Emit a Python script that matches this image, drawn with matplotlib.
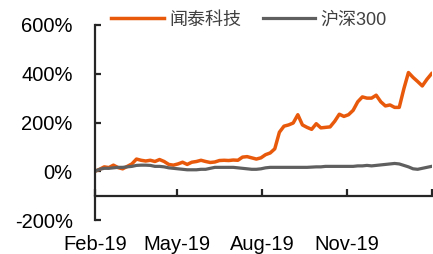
import matplotlib
matplotlib.use("Agg")
import matplotlib.pyplot as plt
import pandas as pd

plt.rcParams['font.family'] = ['Liberation Sans', 'Noto Sans CJK SC', 'DejaVu Sans']

# Sample dates every 5 days, Feb 2019 - Jan 2020
dates = pd.date_range("2019-02-01", periods=74, freq="5D")

wingtech = [0, 8, 18, 15, 25, 15, 10, 20, 30, 50,
            45, 42, 45, 40, 48, 40, 28, 25, 30, 37,
            28, 37, 40, 45, 40, 36, 38, 44, 45, 44,
            46, 45, 58, 60, 55, 50, 55, 68, 75, 92,
            160, 185, 190, 198, 232, 190, 180, 172, 195, 178,
            180, 182, 205, 234, 225, 232, 250, 285, 305, 300,
            300, 312, 285, 268, 272, 262, 262, 338, 405, 385,
            368, 350, 377, 400]

hs300 = [0, 8, 12, 12, 14, 16, 16, 18, 20, 24,
         25, 25, 24, 20, 20, 18, 14, 12, 10, 8,
         6, 6, 6, 8, 8, 12, 16, 16, 16, 16,
         16, 14, 12, 10, 8, 8, 10, 14, 16, 16,
         16, 16, 16, 16, 16, 16, 16, 17, 18, 18,
         20, 20, 20, 20, 20, 20, 20, 22, 22, 24,
         22, 24, 26, 28, 30, 32, 30, 24, 18, 10,
         8, 12, 16, 20]

series_names = ["闻泰科技", "沪深300"]
yticks = [-200, 0, 200, 400, 600]
ytick_labels = ["-200%", "0%", "200%", "400%", "600%"]
xtick_dates = ["2019-02-01", "2019-05-01", "2019-08-01", "2019-11-01", "2020-02-01"]
xtick_labels = ["Feb-19", "May-19", "Aug-19", "Nov-19", ""]

fig = plt.figure(figsize=(4.33, 2.54), dpi=100)
ax = fig.add_axes([95/433, 1 - 220/254, (431.5 - 95)/433, (220 - 25)/254])

ax.plot(dates, wingtech, color="#E8590C", lw=2.5, label=series_names[0], solid_joinstyle="round")
ax.plot(dates, hs300, color="#5F5F5F", lw=2.3, label=series_names[1], solid_joinstyle="round")

ax.set_ylim(-200, 600)
ax.set_xlim(pd.Timestamp("2019-02-01"), pd.Timestamp("2020-02-01"))

ax.set_yticks(yticks)
ax.set_yticklabels(ytick_labels)
ax.set_xticks([pd.Timestamp(d) for d in xtick_dates])
ax.set_xticklabels(xtick_labels)

for s in ["top", "right"]:
    ax.spines[s].set_visible(False)
ax.spines["bottom"].set_position(("data", -100))
ax.spines["left"].set_bounds(-200, 600)
for s in ["left", "bottom"]:
    ax.spines[s].set_color("#262626")
    ax.spines[s].set_linewidth(1.6)

ax.tick_params(axis="y", direction="in", length=4, width=1.6, color="#262626",
               labelsize=14.5, pad=16, labelcolor="black")
ax.tick_params(axis="x", direction="in", length=5, width=1.6, color="#262626",
               labelsize=14.5, pad=28, labelcolor="black")

leg = fig.legend(loc="center", bbox_to_anchor=(249/433, 1 - 20/254), ncol=2,
                 frameon=False, fontsize=13, handlelength=2.9, handletextpad=0.3,
                 columnspacing=1.2, borderaxespad=0, borderpad=0)
for t in leg.get_texts():
    t.set_color("#404040")

fig.savefig("out.png", dpi=100)
